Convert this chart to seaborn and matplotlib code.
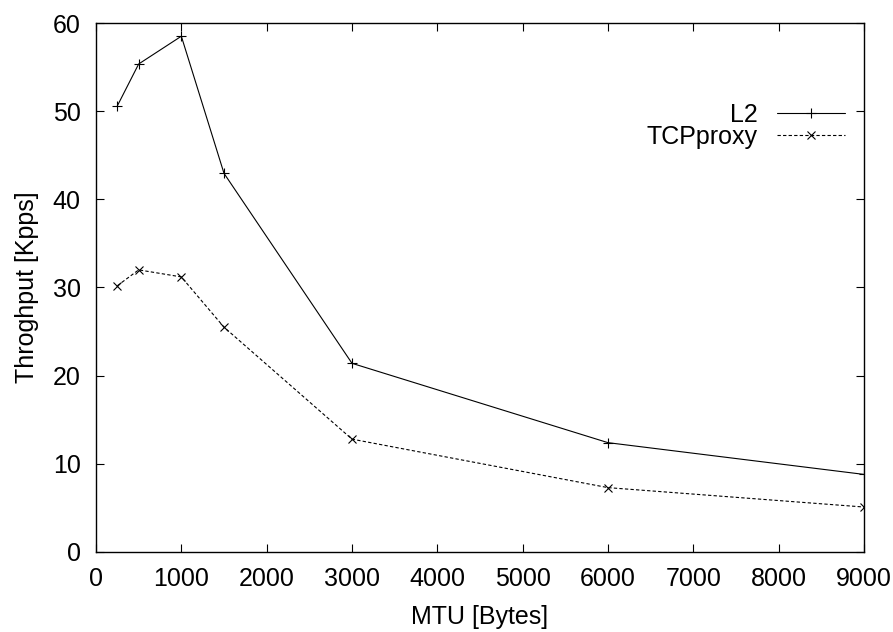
import matplotlib
matplotlib.use('Agg')
import matplotlib.pyplot as plt
import seaborn as sns
import pandas as pd

mtu = [250, 500, 1000, 1500, 3000, 6000, 9000]
l2 = [50.6, 55.35, 58.5, 42.95, 21.4, 12.4, 8.8]
tcpproxy = [30.2, 32.0, 31.2, 25.5, 12.8, 7.3, 5.1]

sns.set_style('ticks')
plt.rcParams['font.family'] = ['Liberation Sans', 'DejaVu Sans']
plt.rcParams['font.size'] = 18
for k in ['text.color', 'axes.labelcolor', 'xtick.color', 'ytick.color', 'axes.edgecolor']:
    plt.rcParams[k] = 'black'

df = pd.DataFrame({'MTU': mtu, 'L2': l2, 'TCPproxy': tcpproxy})

fig = plt.figure(figsize=(8.93, 6.32), dpi=100)
ax = fig.add_axes([0.1075, 0.1266, 0.86, 0.837])

sns.lineplot(data=df, x='MTU', y='L2', ax=ax, color='black', linewidth=0.8,
             marker='+', markersize=7, markeredgewidth=0.8, markeredgecolor='black',
             label='L2')
sns.lineplot(data=df, x='MTU', y='TCPproxy', ax=ax, color='black', linewidth=0.8,
             linestyle=(0, (3, 2)), marker='x', markersize=6, markeredgewidth=0.8,
             markeredgecolor='black', label='TCPproxy')

ax.set_xlim(0, 9000)
ax.set_ylim(0, 60)
ax.set_xticks(range(0, 9001, 1000))
ax.set_yticks(range(0, 61, 10))
ax.set_xlabel('MTU [Bytes]', labelpad=10)
ax.set_ylabel('Throghput [Kpps]', labelpad=10)
ax.tick_params(direction='in', length=6, width=0.8, top=True, right=True, pad=11)
for s in ax.spines.values():
    s.set_linewidth(1.0)

ax.legend(loc='upper right', bbox_to_anchor=(0.975, 0.849), frameon=False,
          markerfirst=False, handlelength=2.7, handletextpad=0.8,
          labelspacing=-0.08, borderaxespad=0, borderpad=0)

fig.savefig('out.png', dpi=100)
